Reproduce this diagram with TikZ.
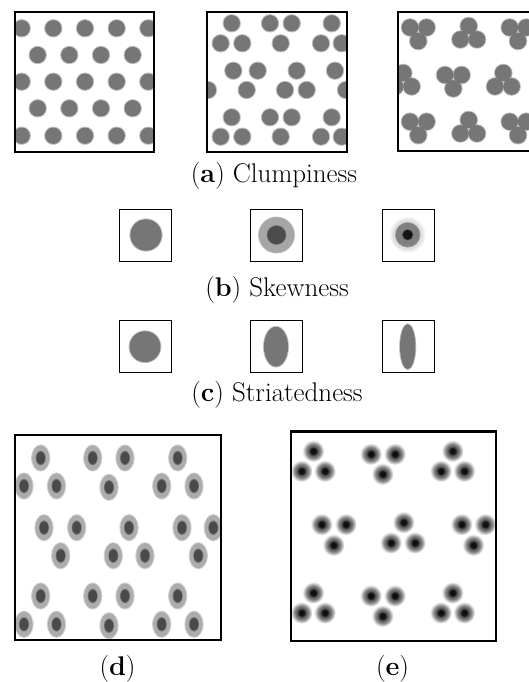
\documentclass[tikz,border=0pt]{standalone}
\definecolor{dotgray}{RGB}{118,118,118}
\definecolor{dothalo}{RGB}{196,196,196}
\definecolor{dlight}{RGB}{172,172,172}
\definecolor{ddark}{RGB}{74,74,74}
\pgfdeclareradialshading{edot}{\pgfpoint{0cm}{0cm}}{color(0bp)=(black!96); color(6.5bp)=(black!92); color(10bp)=(black!66); color(16bp)=(black!48); color(21bp)=(black!20); color(25bp)=(white); color(50bp)=(white)}
\newcommand\agdot[2]{\fill[dothalo] (#1,#2) circle (9.2); \fill[dotgray] (#1,#2) circle (8.2);}
\newcommand\elldot[2]{\fill[black!18] (#1,#2) ellipse (9.6 and 13.6); \fill[dlight] (#1,#2) ellipse (8.6 and 12.6); \fill[black!55] (#1,#2) ellipse (5 and 7.2); \fill[ddark] (#1,#2) ellipse (4.3 and 6.4);}
\newcommand\edotmark[2]{\shade[shading=edot] (#1,#2) circle (11);}
\begin{document}
\begin{tikzpicture}[x=1pt,y=-1pt,
  bigframe/.style={draw=black, line width=1.4pt},
  thickframe/.style={draw=black, line width=2.2pt},
  smallframe/.style={draw=black, line width=0.9pt},
  captext/.style={font=\fontsize{27}{32}\selectfont, inner sep=0pt, anchor=base}]
\useasboundingbox (0,0) rectangle (529,682);
\fill[white] (0,0) rectangle (529,682);
\clip (0,0) rectangle (529,682);

% ---------- (a) panel 1 ----------
\begin{scope}
\clip (15,12) rectangle (154,152);
\foreach \y in {28.3,81.7,135.7} \foreach \x in {21.7,53.3,85,116.7,148.3} {\agdot{\x}{\y}}
\foreach \y in {55,108.3} \foreach \x in {37.7,69.3,101,132.7} {\agdot{\x}{\y}}
\end{scope}
\draw[bigframe] (15,12) rectangle (154,152);

% ---------- (a) panel 2 ----------
\begin{scope}
\clip (207,12) rectangle (347,152);
\foreach \x/\y in {231.7/23.3, 220.7/43.3, 242.3/43.3, 270/23.3, 291.7/23.3, 280.7/43.3,
  331.7/23.3, 321/43.3, 341.7/43.3, 196/70.7, 185/90, 208/90, 233.3/70.7, 257.7/70.7, 246.7/90,
  296.7/70.7, 285/90, 306.7/90, 335/70.7, 357/70.7, 346/90,
  231.7/117.3, 220.7/136.7, 242.3/136.7, 270/117.3, 291.7/117.3, 280.7/136.7,
  331.7/117.3, 321/136.7, 341.7/136.7} {\agdot{\x}{\y}}
\end{scope}
\draw[bigframe] (207,12) rectangle (347,152);

% ---------- (a) panel 3 ----------
\def\trefoils{410/27.5, 426.6/27.5, 418.3/41, 468.7/26, 460.4/39.5, 477/39.5,
  509.7/27.5, 526.3/27.5, 518/41, 403.3/73, 395/86.5, 411.6/86.5,
  445/75, 461.6/75, 453.3/88.5, 503.3/73, 495/86.5, 511.6/86.5,
  410/121.7, 426.6/121.7, 418.3/135.2, 468.7/120, 460.4/133.5, 477/133.5,
  509.7/121.7, 526.3/121.7, 518/135.2}
\begin{scope}
\clip (398,12) rectangle (538,151);
\foreach \x/\y in \trefoils {\fill[dothalo] (\x,\y) circle (9.3);}
\foreach \x/\y in \trefoils {\fill[dotgray] (\x,\y) circle (8.4);}
\end{scope}
\draw[bigframe] (398,12) rectangle (538,151);

\node[captext] (capa) at (274,182) {(\textbf{a}) Clumpiness};

% ---------- (b) ----------
\fill[dothalo] (146,235) circle (16.6);
\fill[dotgray] (146,235) circle (15.7);
\draw[smallframe] (119.5,209.5) rectangle (171.5,261.5);

\fill[black!25] (276.5,235) circle (18.4);
\fill[black!35] (276.5,235) circle (17.6);
\fill[black!58] (276.5,235) circle (9.8);
\fill[black!70] (276.5,235) circle (9);
\draw[smallframe] (250.5,209.5) rectangle (302.5,261.5);

\fill[black!6] (407.7,234.8) circle (17.5);
\fill[black!12] (407.7,234.8) circle (15.5);
\fill[black!35] (407.7,234.8) circle (12.8);
\fill[black!50] (407.7,234.8) circle (12);
\fill[black!75] (407.7,234.8) circle (5.6);
\fill[black!92] (407.7,234.8) circle (4.7);
\draw[smallframe] (382,209.5) rectangle (434,261.5);

\node[captext] (capb) at (277,296) {(\textbf{b}) Skewness};

% ---------- (c) ----------
\fill[dothalo] (145,346.7) circle (16.4);
\fill[dotgray] (145,346.7) circle (15.5);
\draw[smallframe] (119.5,320.5) rectangle (171.5,372.5);

\fill[dothalo] (276,346.7) ellipse (13 and 20.8);
\fill[dotgray] (276,346.7) ellipse (12.1 and 19.9);
\draw[smallframe] (250.5,320.5) rectangle (302.5,372.5);

\fill[dothalo] (407.7,346.7) ellipse (8.6 and 23.3);
\fill[dotgray] (407.7,346.7) ellipse (7.7 and 22.5);
\draw[smallframe] (382,320.5) rectangle (434,372.5);

\node[captext] (capc) at (277,401) {(\textbf{c}) Striatedness};

% ---------- (d) ----------
\begin{scope}
\clip (15,435) rectangle (221,640);
\foreach \x in {40.7,92.7,125,177.7} {\elldot{\x}{458}}
\foreach \x in {24,56.5,161.7,194} {\elldot{\x}{486}}
\elldot{109}{487.3}
\foreach \x in {44,76.7,129,182,213.3} {\elldot{\x}{527.7}}
\foreach \x in {60.7,113.3,145,198.3} {\elldot{\x}{555.7}}
\foreach \x in {40.7,92.7,125,177.7} {\elldot{\x}{596}}
\foreach \x in {24,56.5,161.7,194} {\elldot{\x}{624.3}}
\elldot{109}{625.7}
\end{scope}
\draw[thickframe] (15,435) rectangle (221,640);
\node[captext] (capd) at (117.5,675) {(\textbf{d})};

% ---------- (e) ----------
\begin{scope}
\clip (291,431.5) rectangle (496,641);
\foreach \x/\y in {313.2/451, 301.5/471, 324.8/471, 370.8/454, 394.8/454, 382.5/474,
  452.5/451, 440.8/471, 464.2/471,
  321.5/524.3, 345.8/524.3, 333.5/545, 403.5/522.3, 390.8/542.7, 414.8/542.7,
  461.5/524.3, 485.2/524.3, 473.2/545,
  313.2/592.7, 301.5/612.7, 324.8/612.7, 370.8/595.7, 394.8/595.7, 382.5/616,
  452.5/592.7, 440.8/612.7, 464.2/612.7} {\edotmark{\x}{\y}}
\end{scope}
\draw[thickframe] (291,431.5) rectangle (496,641);
\node[captext] (cape) at (392.5,675) {(\textbf{e})};
\end{tikzpicture}
\end{document}
